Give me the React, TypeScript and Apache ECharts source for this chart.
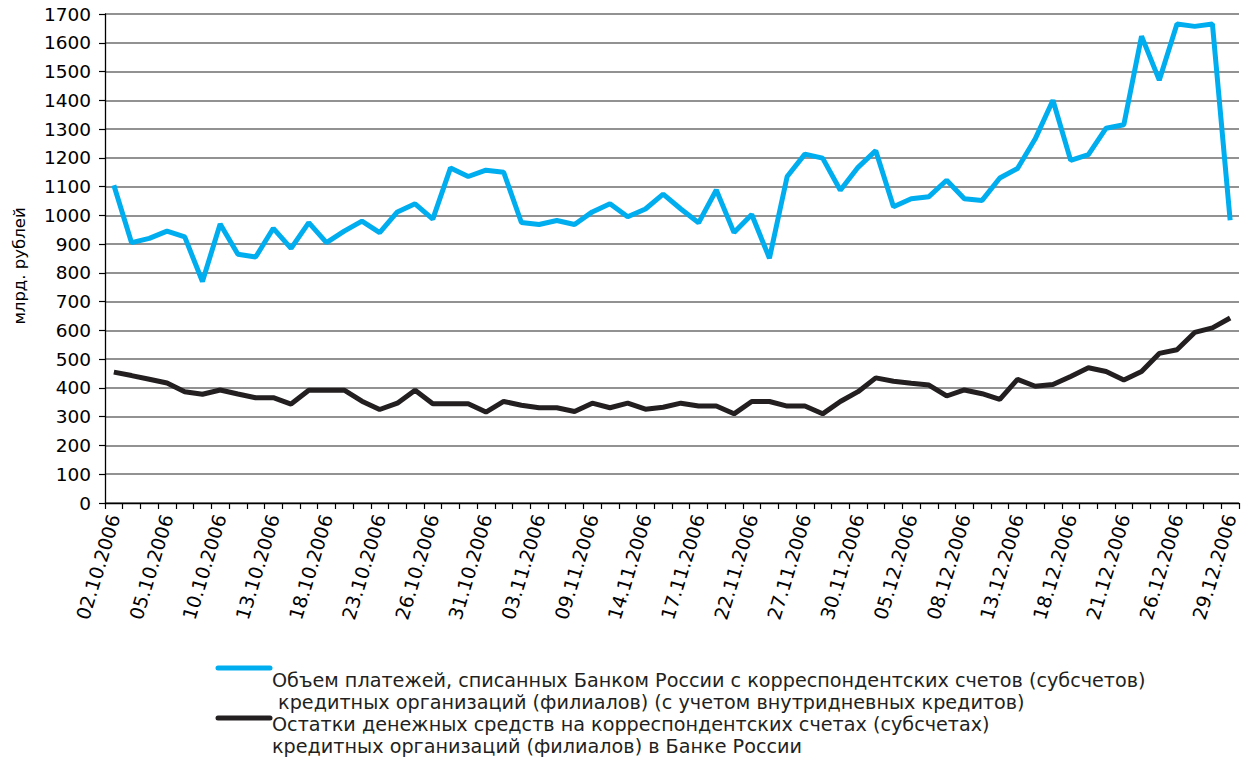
import React, { useEffect, useRef } from "react";
import * as echarts from "echarts";

const dates: string[] = [
  "02.10.2006", "03.10.2006", "04.10.2006", "05.10.2006", "06.10.2006", "09.10.2006", "10.10.2006", "11.10.2006",
  "12.10.2006", "13.10.2006", "16.10.2006", "17.10.2006", "18.10.2006", "19.10.2006", "20.10.2006", "23.10.2006",
  "24.10.2006", "25.10.2006", "26.10.2006", "27.10.2006", "30.10.2006", "31.10.2006",
  "01.11.2006", "02.11.2006", "03.11.2006", "07.11.2006", "08.11.2006", "09.11.2006", "10.11.2006", "13.11.2006",
  "14.11.2006", "15.11.2006", "16.11.2006", "17.11.2006", "20.11.2006", "21.11.2006", "22.11.2006", "23.11.2006",
  "24.11.2006", "27.11.2006", "28.11.2006", "29.11.2006", "30.11.2006",
  "01.12.2006", "04.12.2006", "05.12.2006", "06.12.2006", "07.12.2006", "08.12.2006", "11.12.2006", "12.12.2006",
  "13.12.2006", "14.12.2006", "15.12.2006", "18.12.2006", "19.12.2006", "20.12.2006", "21.12.2006", "22.12.2006",
  "25.12.2006", "26.12.2006", "27.12.2006", "28.12.2006", "29.12.2006",
];

const paymentsName =
  "Объем платежей, списанных Банком России с корреспондентских счетов (субсчетов) кредитных организаций (филиалов) (с учетом внутридневных кредитов)";
const balancesName =
  "Остатки денежных средств на корреспондентских счетах (субсчетах) кредитных организаций (филиалов) в Банке России";

const payments: number[] = [
  1105, 905, 920, 945, 925, 770, 970, 865, 855, 955,
  885, 975, 905, 945, 980, 940, 1012, 1040, 987, 1165,
  1135, 1157, 1150, 975, 968, 982, 968, 1012, 1040, 995,
  1022, 1074, 1022, 974, 1088, 940, 1003, 851, 1135, 1213,
  1199, 1087, 1167, 1225, 1030, 1058, 1065, 1122, 1058, 1052,
  1130, 1163, 1266, 1400, 1191, 1211, 1303, 1315, 1623, 1470,
  1665, 1657, 1665, 983,
];

const balances: number[] = [
  455, 443, 430, 417, 387, 378, 393, 379, 366, 366,
  344, 392, 392, 392, 354, 325, 347, 392, 345, 345,
  345, 316, 353, 340, 331, 331, 318, 347, 331, 347,
  326, 333, 347, 337, 337, 310, 353, 353, 337, 337,
  310, 353, 387, 435, 423, 416, 410, 372, 393, 380,
  360, 430, 406, 412, 440, 470, 457, 428, 457, 520,
  533, 593, 609, 643,
];

const legendLines1: string[] = [
  "Объем платежей, списанных Банком России с корреспондентских счетов (субсчетов)",
  " кредитных организаций (филиалов) (с учетом внутридневных кредитов)",
];
const legendLines2: string[] = [
  "Остатки денежных средств на корреспондентских счетах (субсчетах)",
  "кредитных организаций (филиалов) в Банке России",
];
const yAxisTitle = "млрд. рублей";

const FONT = "'DejaVu Sans', Arial, Helvetica, sans-serif";
const BLUE = "#00adee";
const DARK = "#231f20";

export default function App() {
  const ref = useRef<HTMLDivElement>(null);

  useEffect(() => {
    document.body.style.margin = "0";
    if (!ref.current) return;
    const chart = echarts.init(ref.current, undefined, { renderer: "svg" });
    const textStyleBase = { fontFamily: FONT, fontSize: 19.2, fill: DARK };
    chart.setOption({
      animation: false,
      backgroundColor: "#ffffff",
      textStyle: { fontFamily: FONT },
      grid: { left: 105, right: 13, top: 14, bottom: 258, containLabel: false },
      xAxis: {
        type: "category",
        data: dates,
        boundaryGap: true,
        axisLine: { show: true, lineStyle: { color: "#000", width: 1.3 } },
        axisTick: { show: true, interval: 0, length: 6, lineStyle: { color: "#000", width: 1.2 } },
        axisLabel: {
          interval: 2,
          rotate: 73,
          color: "#000",
          fontSize: 19,
          fontFamily: FONT,
          margin: 12,
        },
        splitLine: { show: false },
      },
      yAxis: {
        type: "value",
        min: 0,
        max: 1700,
        interval: 100,
        axisLine: { show: true, lineStyle: { color: "#000", width: 1.3 } },
        axisTick: { show: true, length: 6, lineStyle: { color: "#000", width: 1.2 } },
        axisLabel: {
          color: "#000",
          fontSize: 18.5,
          fontFamily: FONT,
          margin: 14,
          formatter: (v: number) => String(v),
        },
        splitLine: { show: true, lineStyle: { color: "#6e6e6e", width: 1.5 } },
      },
      series: [
        {
          name: paymentsName,
          type: "line",
          data: payments,
          symbol: "none",
          lineStyle: { color: BLUE, width: 5 },
          itemStyle: { color: BLUE },
        },
        {
          name: balancesName,
          type: "line",
          data: balances,
          symbol: "none",
          lineStyle: { color: DARK, width: 5 },
          itemStyle: { color: DARK },
        },
      ],
      graphic: [
        {
          type: "text",
          x: 19,
          y: 266,
          rotation: Math.PI / 2,
          style: { text: yAxisTitle, fontFamily: FONT, fontSize: 16.5, fill: "#000", align: "center", verticalAlign: "middle" },
        },
        { type: "line", shape: { x1: 218, y1: 668, x2: 270, y2: 668 }, style: { stroke: BLUE, lineWidth: 5, lineCap: "round" } },
        { type: "line", shape: { x1: 218, y1: 718, x2: 270, y2: 718 }, style: { stroke: DARK, lineWidth: 5, lineCap: "round" } },
        { type: "text", x: 272, y: 680, style: { ...textStyleBase, text: legendLines1[0], verticalAlign: "middle" } },
        { type: "text", x: 272, y: 702, style: { ...textStyleBase, text: legendLines1[1], verticalAlign: "middle" } },
        { type: "text", x: 272, y: 724, style: { ...textStyleBase, text: legendLines2[0], verticalAlign: "middle" } },
        { type: "text", x: 272, y: 746, style: { ...textStyleBase, text: legendLines2[1], verticalAlign: "middle" } },
      ],
    });
    return () => chart.dispose();
  }, []);

  return <div ref={ref} style={{ width: 1252, height: 761 }} />;
}
